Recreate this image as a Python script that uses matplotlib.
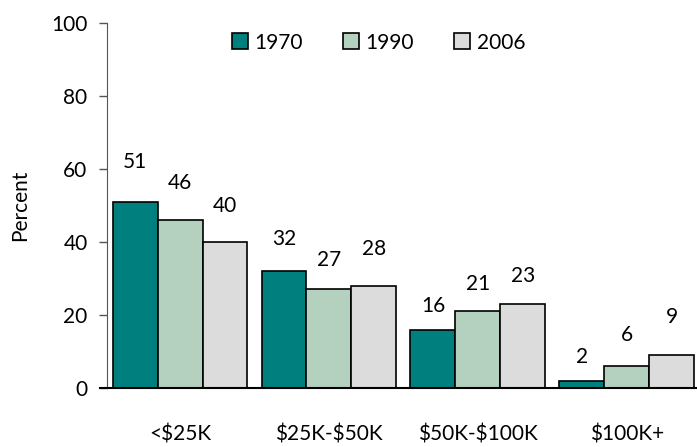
import matplotlib
matplotlib.use("Agg")
import matplotlib.pyplot as plt
import numpy as np

categories = [r"<\$25K", r"\$25K-\$50K", r"\$50K-\$100K", r"\$100K+"]
years = ["1970", "1990", "2006"]
values_1970 = [51, 32, 16, 2]
values_1990 = [46, 27, 21, 6]
values_2006 = [40, 28, 23, 9]
colors = ["#007F7F", "#B3D1BE", "#DCDCDC"]

# label gap above each bar (px), per series, hand placed like in the original
label_gaps = [[40, 32, 24, 24], [37, 29, 27, 31], [36, 37, 28, 38]]

plt.rcParams["font.family"] = ["Lato", "DejaVu Sans"]
fs = 15

fig = plt.figure(figsize=(6.97, 4.47), dpi=100)
ax = fig.add_axes([107 / 697, 59 / 447, 590 / 697, 365 / 447])

x = np.arange(len(categories))
w = 0.302
series = [values_1970, values_1990, values_2006]
for i, (vals, year, col) in enumerate(zip(series, years, colors)):
    bars = ax.bar(x + (i - 1) * w, vals, w, color=col, edgecolor="black",
                  linewidth=1.2, label=year)
    for b, v, g in zip(bars, vals, label_gaps[i]):
        ax.annotate(str(v), (b.get_x() + b.get_width() / 2, v),
                    xytext=(0, g * 0.72), textcoords="offset points",
                    ha="center", va="center", fontsize=fs)

ax.set_xlim(-0.49, 3.47)
ax.set_ylim(0, 100)
ax.set_yticks([0, 20, 40, 60, 80, 100])
ax.set_xticks(x)
ax.set_xticklabels(categories)
ax.tick_params(axis="x", length=0, pad=26, labelsize=fs)
ax.tick_params(axis="y", length=6, width=1, pad=8, labelsize=fs, color="#555555")
ax.set_ylabel("Percent", fontsize=fs, labelpad=15)

for s in ["top", "right"]:
    ax.spines[s].set_visible(False)
ax.spines["left"].set_color("#555555")
ax.spines["bottom"].set_linewidth(1.5)
ax.spines["bottom"].set_bounds(-0.54, 3.47)

ax.legend(loc="upper center", bbox_to_anchor=(0.46, 1.025), ncol=3, frameon=False,
          fontsize=fs, handlelength=0.8, handleheight=0.8, handletextpad=0.3,
          columnspacing=1.9)

fig.savefig("out.png", dpi=100)
